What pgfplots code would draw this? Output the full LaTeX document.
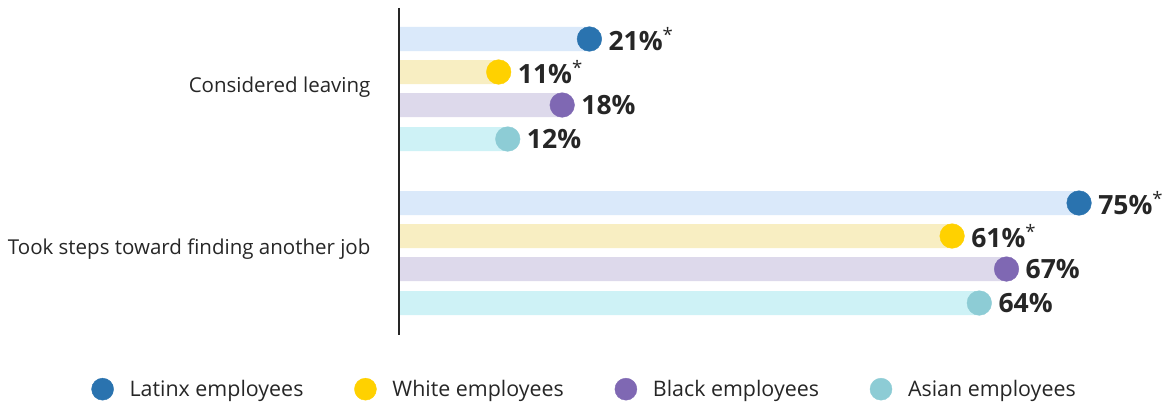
\documentclass[border=0pt]{standalone}
\usepackage{fontspec}
\setmainfont{Open Sans}
\usepackage{pgfplots}
\pgfplotsset{compat=1.18}

\definecolor{latd}{HTML}{2A73AF}
\definecolor{latl}{HTML}{DAE9FA}
\definecolor{whtd}{HTML}{FFD100}
\definecolor{whtl}{HTML}{F8EEC2}
\definecolor{blkd}{HTML}{7F68B3}
\definecolor{blkl}{HTML}{DDD9EB}
\definecolor{asnd}{HTML}{8DCCD5}
\definecolor{asnl}{HTML}{CEF2F6}
\definecolor{txt}{HTML}{262626}

\newcommand{\sig}{\textsuperscript{\mdseries *}}

\pgfplotsset{
  bar/.style={xbar, bar width=24pt, bar shift=0pt, draw=none, forget plot},
  dot/.style={only marks, mark=*, mark size=12.3pt, point meta=explicit symbolic,
    nodes near coords, nodes near coords align={horizontal},
    nodes near coords style={anchor=west, xshift=19pt, inner sep=0pt,
      font=\bfseries\fontsize{26.5}{26.5}\selectfont, text=txt}},
}

\begin{document}
\begin{tikzpicture}
\begin{axis}[
    scale only axis,
    width=1167pt, height=402pt,
    xmin=-44.0, xmax=84.7,
    ymin=0, ymax=402, y dir=reverse,
    hide axis, clip=false,
    legend columns=4,
    legend style={at={(axis description cs:0.501,0.032)}, anchor=center,
      draw=none, fill=none, text=txt, font=\fontsize{21.4}{24}\selectfont,
      /tikz/every odd column/.append style={column sep=14pt},
      /tikz/every even column/.append style={column sep=49pt}},
    legend image code/.code={\draw[#1, mark size=11pt] plot coordinates {(0pt,0pt)};},
]
% light bars
\addplot[bar, fill=latl] coordinates {(21,39) (75,203)};
\addplot[bar, fill=whtl] coordinates {(11,72) (61,236)};
\addplot[bar, fill=blkl] coordinates {(18,105) (67,269)};
\addplot[bar, fill=asnl] coordinates {(12,139) (64,303)};
% dots with value labels
\addplot[dot, color=latd] coordinates {(21,39) [21\%\sig] (75,203) [75\%\sig]};
\addlegendentry{Latinx employees}
\addplot[dot, color=whtd] coordinates {(11,72) [11\%\sig] (61,236) [61\%\sig]};
\addlegendentry{White employees}
\addplot[dot, color=blkd] coordinates {(18,105) [18\%] (67,269) [67\%]};
\addlegendentry{Black employees}
\addplot[dot, color=asnd] coordinates {(12,139) [12\%] (64,303) [64\%]};
\addlegendentry{Asian employees}

\draw[color=txt, line width=1.2pt] (axis cs:0,8) -- (axis cs:0,335);
\node[anchor=east, xshift=-25pt, text=txt, font=\fontsize{20.5}{24}\selectfont]
  at (axis cs:0,87) {Considered leaving};
\node[anchor=east, xshift=-25pt, text=txt, font=\fontsize{20.5}{24}\selectfont]
  at (axis cs:0,249) {Took steps toward finding another job};
\path (axis description cs:0,0) rectangle (axis description cs:1,1);
\end{axis}
\end{tikzpicture}
\end{document}
